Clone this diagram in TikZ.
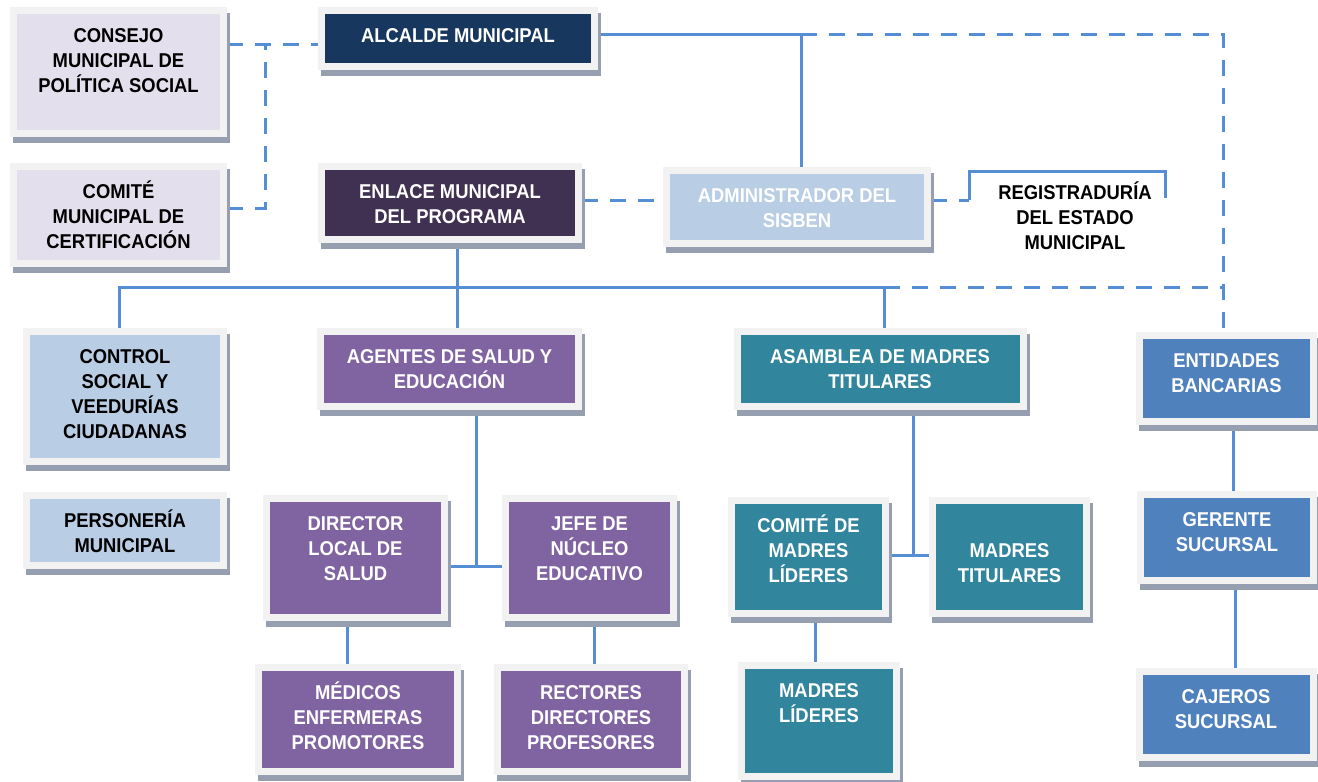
\documentclass[tikz,border=0pt]{standalone}
\usepackage{fontspec}
\newfontfamily\letra{Liberation Sans}[FakeStretch=0.92]
\usetikzlibrary{shadows,backgrounds}
% colores del organigrama
\definecolor{azul}{HTML}{558ED5}
\definecolor{marco}{HTML}{F2F2F2}
\definecolor{sombra}{HTML}{969FB0}
\definecolor{lila}{HTML}{E4DFEC}
\definecolor{marino}{HTML}{17375E}
\definecolor{uva}{HTML}{403152}
\definecolor{celeste}{HTML}{B9CDE5}
\definecolor{violeta}{HTML}{8064A2}
\definecolor{verdeAzul}{HTML}{31859C}
\definecolor{azulMedio}{HTML}{4F81BD}
\begin{document}
\begin{tikzpicture}[x=1pt,y=-1pt]
%============================================================
%  Estilos de cajas y conectores
%============================================================
\tikzset{
    % --- conectores ---
    conector/.style={ %
            draw=azul,      % linea azul
            line width=3pt  % linea gruesa
        },
    punteado/.style={ conector, %
            dash pattern=on 16pt off 12pt % linea discontinua
        },
    % --- cajas ---
    % text height = alto sobre la ultima linea, text depth = resto
    caja/.style={ %
            rectangle,         % forma rectangular
            draw=marco,        % marco gris claro
            line width=7pt,    % marco ancho
            inner sep=0pt,     % sin margen interno
            align=center,      % texto centrado
            text=white,        % texto blanco
            font=\letra\bfseries\fontsize{20pt}{25pt}\selectfont,
            general shadow={fill=sombra, draw=sombra,
                shadow xshift=3pt, shadow yshift=-6pt}
        },
    texto/.style={ %
            align=center,
            text=black,
            font=\letra\bfseries\fontsize{20pt}{25pt}\selectfont
        },
}
\useasboundingbox (0,0) rectangle (1318,782);

   % columna izquierda
   \node[caja,fill=lila,text=black,minimum width=210pt,text height=82pt,text depth=41pt] (consejo) at (118.5,72) {CONSEJO\\MUNICIPAL DE\\POLÍTICA SOCIAL};
   \node[caja,fill=lila,text=black,minimum width=210pt,text height=82pt,text depth=15pt] (comite) at (118.5,215) {COMITÉ\\MUNICIPAL DE\\CERTIFICACIÓN};
   \node[caja,fill=celeste,text=black,minimum width=197pt,text height=107pt,text depth=23pt] (control) at (125,396.5) {CONTROL\\SOCIAL Y\\VEEDURÍAS\\CIUDADANAS};
   \node[caja,fill=celeste,text=black,minimum width=197pt,text height=57pt,text depth=13pt] (personeria) at (125,530.5) {PERSONERÍA\\MUNICIPAL};

   % nivel superior
   \node[caja,fill=marino,minimum width=273pt,text height=32pt,text depth=24pt] (alcalde) at (458,38.5) {ALCALDE MUNICIPAL};
   \node[caja,fill=uva,minimum width=257pt,text height=57pt,text depth=16pt] (enlace) at (450,203) {ENLACE MUNICIPAL\\DEL PROGRAMA};
   \node[caja,fill=celeste,minimum width=261pt,text height=57pt,text depth=16pt] (admin) at (797,207) {ADMINISTRADOR DEL\\SISBEN};
   \node[texto] (registro) at (1075,215.5) {REGISTRADURÍA\\DEL ESTADO\\MUNICIPAL};

   % salud y educacion
   \node[caja,fill=violeta,minimum width=258pt,text height=57pt,text depth=18pt] (agentes) at (449.5,369) {AGENTES DE SALUD Y\\EDUCACIÓN};
   \node[caja,fill=violeta,minimum width=178pt,text height=82pt,text depth=37pt] (director) at (355.5,558) {DIRECTOR\\LOCAL DE\\SALUD};
   \node[caja,fill=violeta,minimum width=168pt,text height=82pt,text depth=37pt] (jefe) at (589.5,558) {JEFE DE\\NÚCLEO\\EDUCATIVO};
   \node[caja,fill=violeta,minimum width=199pt,text height=82pt,text depth=22pt] (medicos) at (358,719.5) {MÉDICOS\\ENFERMERAS\\PROMOTORES};
   \node[caja,fill=violeta,minimum width=187pt,text height=82pt,text depth=22pt] (rectores) at (591,719.5) {RECTORES\\DIRECTORES\\PROFESORES};

   % madres
   \node[caja,fill=verdeAzul,minimum width=286pt,text height=57pt,text depth=18pt] (asamblea) at (880,369) {ASAMBLEA DE MADRES\\TITULARES};
   \node[caja,fill=verdeAzul,minimum width=154pt,text height=82pt,text depth=31pt] (comiteMadres) at (808.5,557) {COMITÉ DE\\MADRES\\LÍDERES};
   \node[caja,fill=verdeAzul,minimum width=154pt,text height=82pt,text depth=31pt] (titulares) at (1009.5,557) {MADRES\\TITULARES};
   \node[caja,fill=verdeAzul,minimum width=155pt,text height=57pt,text depth=54pt] (lideres) at (819,721) {MADRES\\LÍDERES};

   % bancos
   \node[caja,fill=azulMedio,minimum width=174pt,text height=57pt,text depth=29pt] (entidades) at (1226.5,378.5) {ENTIDADES\\BANCARIAS};
   \node[caja,fill=azulMedio,minimum width=173pt,text height=57pt,text depth=29pt] (gerente) at (1227,537.5) {GERENTE\\SUCURSAL};
   \node[caja,fill=azulMedio,minimum width=174pt,text height=57pt,text depth=29pt] (cajeros) at (1226,714.5) {CAJEROS\\SUCURSAL};

   % puntos de union
   \coordinate (uConsejo) at (265,44);
   \coordinate (uAlcalde) at (801,34);
   \coordinate (uBanco) at (1223,34);
   \coordinate (regIzq) at (969,200);
   \coordinate (regDer) at (1165,198);
   \coordinate (uEnlace) at (457,287);
   \coordinate (uAsamblea) at (884,287);
   \coordinate (uAgentes) at (476,566);
   \coordinate (uMadres) at (913,555);

   \begin{scope}[on background layer]
   \draw[punteado] (consejo.east |- uConsejo) -- (alcalde.west |- uConsejo);
   \draw[punteado] (comite.east |- 0,208) -| (uConsejo);
   \draw[conector] (alcalde.east |- uAlcalde) -- (uAlcalde) -- (uAlcalde |- admin.north);
   \draw[punteado] (uAlcalde) -- (uBanco) -- (uBanco |- entidades.north);
   \draw[punteado] (enlace.east |- regIzq) -- (admin.west |- regIzq);
   \draw[punteado] (admin.east |- regIzq) -- (regIzq);
   \draw[conector] (regIzq) |- (regDer |- 0,171) -- (regDer);
   \draw[conector] (uEnlace |- enlace.south) -- (uEnlace |- agentes.north);
   \draw[conector] (control.north -| 119,0) |- (uAsamblea) -- (uAsamblea |- asamblea.north);
   \draw[punteado] (uAsamblea) -- (uBanco |- uAsamblea);
   \draw[conector] (uAgentes |- agentes.south) -- (uAgentes);
   \draw[conector] (director.east |- uAgentes) -- (jefe.west |- uAgentes);
   \draw[conector] (director.south -| 347,0) -- (medicos.north -| 347,0);
   \draw[conector] (jefe.south -| 594,0) -- (rectores.north -| 594,0);
   \draw[conector] (uMadres |- asamblea.south) -- (uMadres);
   \draw[conector] (comiteMadres.east |- uMadres) -- (titulares.west |- uMadres);
   \draw[conector] (comiteMadres.south -| 815.5,0) -- (lideres.north -| 815.5,0);
   \draw[conector] (entidades.south -| 1233,0) -- (gerente.north -| 1233,0);
   \draw[conector] (gerente.south -| 1235,0) -- (cajeros.north -| 1235,0);
   \end{scope}
\end{tikzpicture}
\end{document}
